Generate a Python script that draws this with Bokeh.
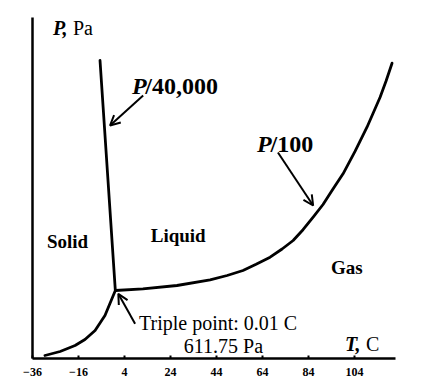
from bokeh.plotting import figure
from bokeh.models import Range1d, FixedTicker, Label, Arrow, OpenHead
from bokeh.embed import file_html
from bokeh.resources import INLINE

# Tick labels of the temperature axis (C)
T_TICKS = [-36, -16, 4, 24, 44, 64, 84, 104]

# Sublimation curve (solid-gas), T in C, P in scaled units
subl_T = [-30.6, -24.0, -17.5, -13.2, -8.8, -4.5, 0.01]
subl_P = [3, 7, 13, 19, 28, 43, 68]

# Melting line (solid-liquid), pressure shown as P/40,000
melt_T = [0.01, -6.65]
melt_P = [68, 298]

# Vaporization curve (liquid-gas), pressure shown as P/100
vap_T = [0.01, 12.0, 26.8, 41.2, 48.6, 55.5, 61.2, 67.3, 72.5, 77.3, 81.6,
         86.0, 90.3, 94.2, 99.0, 104.2, 109.4, 115.1, 117.7, 120.3]
vap_P = [68, 69.7, 73, 78.7, 83, 88, 94.2, 101.3, 109.5, 118, 128.8,
         141.3, 154, 168, 184.7, 207.2, 231.3, 261.3, 277.5, 295.3]

SERIF = "Liberation Serif"

p = figure(width=414, height=384,
           x_range=Range1d(-36, 121.8), y_range=Range1d(0, 341),
           output_backend="svg", toolbar_location=None,
           min_border_left=32, min_border_right=19,
           min_border_top=17, min_border_bottom=26)
p.outline_line_color = None
p.xgrid.visible = False
p.ygrid.visible = False
p.background_fill_color = "white"

# Axes
p.yaxis.ticker = FixedTicker(ticks=[])
p.yaxis.minor_tick_line_color = None
p.yaxis.major_tick_line_color = None
p.yaxis.major_label_text_font_size = "0px"
p.yaxis.axis_line_width = 2.5
p.yaxis.axis_line_color = "black"

p.xaxis.ticker = FixedTicker(ticks=T_TICKS)
p.xaxis.minor_tick_line_color = None
p.xaxis.major_tick_in = 3
p.xaxis.major_tick_out = 0
p.xaxis.major_tick_line_width = 2
p.xaxis.major_tick_line_color = "black"
p.xaxis.axis_line_width = 2.5
p.xaxis.axis_line_color = "black"
p.xaxis.major_label_text_font = SERIF
p.xaxis.major_label_text_font_style = "bold"
p.xaxis.major_label_text_font_size = "12px"
p.xaxis.major_label_text_color = "black"
p.xaxis.major_label_standoff = 9

# Phase boundaries
for xs, ys in [(subl_T, subl_P), (melt_T, melt_P), (vap_T, vap_P)]:
    p.line(xs, ys, line_width=2.8, line_color="black", line_join="round", line_cap="round")

def lab(x, y, text, size, style="normal", align="left"):
    p.add_layout(Label(x=x, y=y, text=text, text_font=SERIF, text_font_size=size,
                       text_font_style=style, text_color="black",
                       text_baseline="alphabetic", text_align=align))

# Region labels
lab(-29.7, 117, "Solid", "19px", "bold")
lab(15.4, 123, "Liquid", "19px", "bold")
lab(93.8, 91, "Gas", "19px", "bold")

# Axis titles
lab(-27.1, 331, "P,", "20px", "bold italic")
lab(-18.4, 331, "Pa", "20px")
lab(99.9, 15, "T,", "20px", "bold italic")
lab(109.0, 15, "C", "20px")

# Scale notes
lab(7.3, 273, "P", "24px", "bold italic")
lab(13.0, 273, "/40,000", "24px", "bold")
lab(61.6, 215, "P", "24px", "bold italic")
lab(67.5, 215, "/100", "24px", "bold")

# Triple point note
lab(10.3, 36, "Triple point: 0.01 C", "20px")
lab(47.0, 13, "611.75 Pa", "20px", align="center")

# Arrows
for xs, ys, xe, ye in [(12.1, 263, -2.3, 233), (70.7, 206, 86.0, 153), (8.6, 34.7, 1.3, 64.7)]:
    p.add_layout(Arrow(end=OpenHead(size=10, line_width=2, line_color="black"),
                       x_start=xs, y_start=ys, x_end=xe, y_end=ye,
                       line_width=2, line_color="black"))

open("out.html", "w").write(file_html(p, INLINE))
